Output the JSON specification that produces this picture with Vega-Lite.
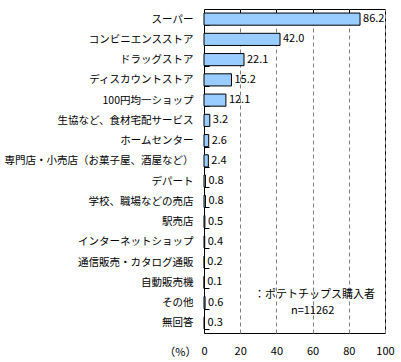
{
  "$schema": "https://vega.github.io/schema/vega-lite/v6.json",
  "autosize": "none",
  "width": 181,
  "height": 324,
  "padding": {"left": 204, "top": 9, "right": 16, "bottom": 29},
  "background": "white",
  "config": {
    "view": {"stroke": "black", "strokeWidth": 1},
    "font": "Noto Sans CJK JP"
  },
  "data": {
    "values": [
      {"store": "スーパー", "pct": 86.2},
      {"store": "コンビニエンスストア", "pct": 42.0},
      {"store": "ドラッグストア", "pct": 22.1},
      {"store": "ディスカウントストア", "pct": 15.2},
      {"store": "100円均一ショップ", "pct": 12.1},
      {"store": "生協など、食材宅配サービス", "pct": 3.2},
      {"store": "ホームセンター", "pct": 2.6},
      {"store": "専門店・小売店（お菓子屋、酒屋など）", "pct": 2.4},
      {"store": "デパート", "pct": 0.8},
      {"store": "学校、職場などの売店", "pct": 0.8},
      {"store": "駅売店", "pct": 0.5},
      {"store": "インターネットショップ", "pct": 0.4},
      {"store": "通信販売・カタログ通販", "pct": 0.2},
      {"store": "自動販売機", "pct": 0.1},
      {"store": "その他", "pct": 0.6},
      {"store": "無回答", "pct": 0.3}
    ]
  },
  "resolve": {"axis": {"x": "independent"}},
  "encoding": {
    "y": {
      "field": "store",
      "type": "nominal",
      "sort": null,
      "scale": {"paddingInner": 0.4, "paddingOuter": 0.2},
      "axis": {
        "title": null,
        "domainColor": "black",
        "tickColor": "black",
        "tickBand": "extent",
        "tickSize": -5,
        "labelPadding": 16,
        "labelFontSize": 10.5,
        "labelColor": "black",
        "labelLimit": 220
      }
    }
  },
  "layer": [
    {
      "mark": {"type": "bar", "fill": "#99CCFF", "stroke": "black", "strokeWidth": 1},
      "encoding": {
        "x": {
          "field": "pct",
          "type": "quantitative",
          "scale": {"domain": [0, 100], "nice": false},
          "axis": {
            "orient": "bottom",
            "values": [0, 20, 40, 60, 80, 100],
            "title": "（%）",
            "titleFontSize": 11,
            "titleFontWeight": "normal",
            "titleColor": "black",
            "titleAnchor": "start",
            "titleAlign": "right",
            "titleBaseline": "middle",
            "titleX": -8,
            "titleY": 19,
            "ticks": false,
            "domain": false,
            "labelPadding": 12,
            "labelFontSize": 11,
            "labelColor": "black",
            "labelFlush": false,
            "grid": true,
            "gridColor": "#808080",
            "gridDash": [4, 3],
            "gridWidth": 1
          }
        }
      }
    },
    {
      "mark": {"type": "text", "align": "left", "baseline": "middle", "dx": 3, "fontSize": 11, "color": "black"},
      "encoding": {
        "x": {
          "field": "pct",
          "type": "quantitative",
          "axis": {
            "orient": "top",
            "values": [20, 40, 60, 80],
            "title": null,
            "labels": false,
            "domain": false,
            "grid": false,
            "tickColor": "black",
            "tickSize": -4
          }
        },
        "text": {"field": "pct", "type": "quantitative", "format": ".1f"}
      }
    },
    {
      "data": {"values": [{"store": "その他", "pct": 61, "note": "：ポテトチップス購入者"}]},
      "mark": {"type": "text", "align": "center", "baseline": "bottom", "dy": -3, "fontSize": 11, "color": "black"},
      "encoding": {
        "x": {"field": "pct", "type": "quantitative", "axis": null},
        "text": {"field": "note"}
      }
    },
    {
      "data": {"values": [{"store": "その他", "pct": 60, "note": "n=11262"}]},
      "mark": {"type": "text", "align": "center", "baseline": "top", "dy": 2, "fontSize": 11, "color": "black"},
      "encoding": {
        "x": {"field": "pct", "type": "quantitative", "axis": null},
        "text": {"field": "note"}
      }
    }
  ]
}
